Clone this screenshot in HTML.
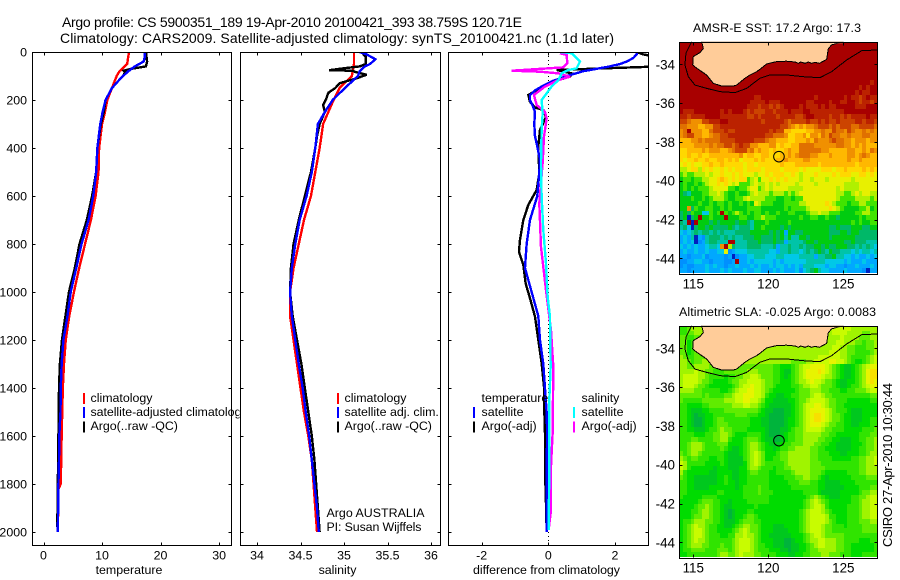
<!DOCTYPE html>
<html lang="en">
<head>
<meta charset="utf-8">
<title>Argo profile</title>
<style>
html,body{margin:0;padding:0;background:#fff}
svg{display:block}
text{font-family:"Liberation Sans",sans-serif;fill:#000}
</style>
</head>
<body>
<svg id="fig" xmlns="http://www.w3.org/2000/svg" width="900" height="580" viewBox="0 0 900 580">
  <defs>
    <clipPath id="c1"><rect x="32" y="52" width="199" height="493"/></clipPath>
    <clipPath id="c2"><rect x="239.5" y="52" width="200" height="493"/></clipPath>
    <clipPath id="c3"><rect x="448.3" y="52" width="200" height="493"/></clipPath>
    <clipPath id="m1"><rect x="679.3" y="41.7" width="198" height="231.6"/></clipPath>
    <clipPath id="m2"><rect x="679.3" y="325.7" width="198" height="231.6"/></clipPath>
  </defs>
  <rect width="900" height="580" fill="#fff"/>
  <text x="62" y="27" font-size="14" textLength="460" lengthAdjust="spacing">Argo profile: CS 5900351_189 19-Apr-2010 20100421_393 38.759S 120.71E</text>
  <text x="60" y="43" font-size="14" textLength="554" lengthAdjust="spacing">Climatology: CARS2009. Satellite-adjusted climatology: synTS_20100421.nc (1.1d later)</text>

  <g id="panel1">
    <rect x="32" y="52" width="199" height="493" fill="#fff"/>
    <g id="p1lines" clip-path="url(#c1)"></g>
    <g font-size="12.4">
      <rect x="83" y="393" width="2" height="11" fill="#f00"/>
      <rect x="83" y="407" width="2" height="11" fill="#00f"/>
      <rect x="83" y="421.5" width="2" height="11" fill="#000"/>
      <text x="90.5" y="402">climatology</text>
      <text x="90.5" y="416" textLength="157" lengthAdjust="spacing">satellite-adjusted climatology</text>
      <text x="90.5" y="430">Argo(..raw -QC)</text>
    </g>
    <text x="129" y="574" font-size="12.4" text-anchor="middle">temperature</text>
  </g>

  <g id="panel2">
    <rect x="239.5" y="52" width="200" height="493" fill="#fff"/>
    <g id="p2lines" clip-path="url(#c2)"></g>
    <g font-size="12.4">
      <rect x="337" y="393" width="2" height="11" fill="#f00"/>
      <rect x="337" y="407" width="2" height="11" fill="#00f"/>
      <rect x="337" y="421.5" width="2" height="11" fill="#000"/>
      <text x="344.5" y="402">climatology</text>
      <text x="344.5" y="416">satellite adj. clim.</text>
      <text x="344.5" y="430">Argo(..raw -QC)</text>
      <text x="326.5" y="517" textLength="98" lengthAdjust="spacing">Argo AUSTRALIA</text>
      <text x="326.5" y="531" textLength="95" lengthAdjust="spacing">PI: Susan Wijffels</text>
    </g>
    <text x="337.5" y="574" font-size="12.4" text-anchor="middle">salinity</text>
  </g>

  <g id="panel3">
    <rect x="448.3" y="52" width="200" height="493" fill="#fff"/>
    <line x1="548.5" y1="52" x2="548.5" y2="545" stroke="#000" stroke-width="1" stroke-dasharray="1 3"/>
    <g id="p3lines" clip-path="url(#c3)"></g>
    <g font-size="12.4">
      <text x="481.5" y="402">temperature</text>
      <rect x="473" y="407" width="2" height="11" fill="#00f"/>
      <text x="481.5" y="416">satellite</text>
      <rect x="473" y="421.5" width="2" height="11" fill="#000"/>
      <text x="481.5" y="430">Argo(-adj)</text>
      <text x="581.5" y="402">salinity</text>
      <rect x="573" y="407" width="2" height="11" fill="#0ff"/>
      <text x="581.5" y="416">satellite</text>
      <rect x="573" y="421.5" width="2" height="11" fill="#f0f"/>
      <text x="581.5" y="430">Argo(-adj)</text>
    </g>
    <text x="473" y="574" font-size="12.4" textLength="147" lengthAdjust="spacing">difference from climatology</text>
  </g>

  <g id="map1"></g>
  <g id="map2"></g>
  <text x="693" y="32" font-size="12.4" textLength="168" lengthAdjust="spacing">AMSR-E SST: 17.2 Argo: 17.3</text>
  <text x="679" y="316" font-size="12.4" textLength="197" lengthAdjust="spacing">Altimetric SLA: -0.025 Argo: 0.0083</text>
  <text transform="translate(892,547) rotate(-90)" font-size="13" textLength="164" lengthAdjust="spacing">CSIRO 27-Apr-2010 10:30:44</text>
  <g id="axes"></g>
</svg>
<script>
// ---- profile data ----
var depthTicks = [0,200,400,600,800,1000,1200,1400,1600,1800,2000];
var tempTicks = [0,10,20,30];
var salTicks = [34,34.5,35,35.5,36];
var salTickLabels = ['34','34.5','35','35.5','36'];
var diffTicks = [-2,0,2];

var tempClimDepth = [0,50,80,100,150,200,250,300,400,500,600,700,800,900,1000,1100,1200,1300,1400,1500,1600,1800,1820,2000];
var tempClim = [14.6,14.3,13.0,12.5,11.7,10.9,10.5,10,9.5,9.4,8.9,8.1,7.1,6.1,5.2,4.4,3.8,3.5,3.3,3.2,3.1,2.95,2.55,2.45];
var tempArgoDepth = [0,20,40,60,70,78,85,100,120,150,200,250,300,400,500,600,700,800,900,1000,1100,1200,1300,1400,1500,1600,1700,1800,1900,1980];
var tempArgo = [17.6,17.6,17.7,17.5,15,13.7,13.9,13.6,12.8,11.7,10.6,10.3,9.8,9.2,9.0,8.3,7.4,6.15,5.35,4.35,3.75,3.15,2.8,2.65,2.6,2.55,2.5,2.45,2.42,2.3];
var tempSatDepth = [0,20,40,60,80,100,120,150,200,250,300,400,500,600,700,800,900,1000,1100,1200,1300,1400,1500,1600,1700,1800,1900,2000];
var tempSat = [17.3,17.3,17.1,15.6,14.5,13.6,12.8,11.7,10.6,10.1,9.7,9.2,9.0,8.5,7.7,6.5,5.6,4.65,4.1,3.4,3.1,2.95,2.9,2.7,2.65,2.55,2.5,2.45];

var salClimDepth = [0,50,100,150,200,300,400,500,600,700,800,900,1000,1100,1200,1300,1400,1500,1600,1700,1800,1900,2000];
var salClim = [35.115,35.115,35.09,34.95,34.88,34.76,34.72,34.67,34.62,34.54,34.48,34.42,34.38,34.38,34.42,34.46,34.5,34.54,34.59,34.63,34.65,34.67,34.69];
var salSatDepth = [0,10,30,50,60,80,100,120,150,200,250,300,400,500,600,700,800,900,1000,1100,1200,1300,1400,1500,1600,1700,1800,1900,2000];
var salSat = [35.18,35.26,35.36,35.3,35.24,35.18,35.16,35.1,35.01,34.87,34.78,34.7,34.67,34.63,34.57,34.49,34.44,34.4,34.38,34.4,34.44,34.48,34.525,34.56,34.6,34.63,34.66,34.69,34.71];
var salArgoDepth = [0,20,50,60,70,76,78,83,95,110,130,150,170,200,220,250,300,350,400,500,600,700,800,900,1000,1100,1200,1300,1400,1500,1600,1700,1800,1900,2000];
var salArgo = [35.2,35.25,35.25,35.18,34.95,34.83,35.1,35.13,35.26,35.14,34.95,34.9,34.82,34.79,34.76,34.78,34.72,34.69,34.67,34.62,34.55,34.48,34.42,34.39,34.38,34.41,34.46,34.51,34.55,34.59,34.63,34.66,34.68,34.7,34.72];

var diffTempSatDepth = [0,10,25,40,50,60,70,80,100,120,140,160,180,200,230,250,300,350,400,450,500,600,700,800,900,1000,1100,1200,1300,1400,1500,1600,1700,1800,1900,2000];
var diffTempSat = [2.65,2.65,2.55,2.35,2.15,1.85,1.45,1.05,.55,.15,-.15,-.4,-.55,-.55,-.45,-.4,-.42,-.4,-.32,-.25,-.27,-.33,-.55,-.65,-.7,-.5,-.3,-.25,-.15,-.1,-.05,-.03,-.05,-.05,-.05,-.05];
var diffTempArgoDepth = [0,10,18,47,61,75,89,103,117,144,179,207,231,242,272,325,394,506,575,637,700,783,832,887,964,1026,1102,1200,1297,1394,1491,1588,1686,1783,1880,1991];
var diffTempArgo = [2.65,2.85,3.15,3.35,3.15,.25,.7,.65,.3,-.15,-.6,-.55,-.4,-.15,-.07,-.25,-.3,-.27,-.35,-.6,-.75,-.85,-.88,-.75,-.68,-.55,-.4,-.3,-.2,-.13,-.12,-.1,-.1,-.09,-.07,-.05];
var diffSalSatDepth = [0,5,40,68,75,89,117,144,200,256,325,464,603,742,880,1019,1102,1311,1450,1727,1991];
var diffSalSat = [.35,.7,.95,.85,.6,.4,.3,.1,-.2,-.17,-.2,-.22,-.2,-.15,-.07,-.02,.05,.07,.03,.03,.01];
var diffSalArgoDepth = [5,12,47,64,78,82,89,103,117,144,179,221,249,276,353,464,631,811,992,1158,1311,1588,1727,1922,1991];
var diffSalArgo = [.35,.55,.57,.45,-1.1,-.25,.3,.65,.3,-.1,-.43,-.35,-.1,-.05,-.13,-.17,-.27,-.22,-.07,.08,.15,.13,.08,.07,.01];

// ---- map data (lon, lat) ----
var mapLonTicks = [115,120,125];
var mapLatTicks = [-34,-36,-38,-40,-42,-44];
var floatLon = 120.71;
var floatLat = -38.76;
var coastLon = [115.56,115.67,115.44,115.0,114.96,115.22,115.89,116.33,116.89,117.67,117.89,118.44,118.78,119.22,119.44,119.89,120.56,121.2,121.78,122.0,122.16,122.45,122.67,122.89,123.11,123.4,123.89,124.0,124.22,125.0];
var coastLat = [-32.83,-33.18,-33.40,-33.6,-34.03,-34.2,-34.55,-34.98,-35.12,-35.12,-35.07,-34.72,-34.55,-34.38,-34.26,-33.98,-33.86,-33.84,-33.88,-33.95,-33.88,-33.95,-33.88,-33.95,-33.9,-33.95,-33.75,-33.2,-33.0,-32.83];
var shelfLon = [114.89,114.51,114.44,114.67,115.11,115.89,116.78,117.78,118.56,119.44,120.11,121.22,122.33,123.44,124.22,125.22,126.22,127.27];
var shelfLat = [-32.83,-33.43,-34.03,-34.64,-35.07,-35.24,-35.41,-35.46,-35.24,-34.72,-34.55,-34.55,-34.64,-34.69,-34.38,-33.78,-33.30,-33.26];

var sstColors = {z:'#0020c0','0':'#0090ff','1':'#00a8ff','2':'#00c8e8','3':'#00c4a8','4':'#00b868','5':'#00cc10','6':'#40e400','7':'#b0f000','8':'#e8f000','9':'#ffd800',A:'#ffb800',B:'#f09000',C:'#e07000',D:'#cc4400',E:'#bb2200',F:'#a80000'};
var slaColors = {'0':'#00b43c','1':'#00c81e','2':'#00dc00','3':'#30e400','4':'#60ec00','5':'#a0f400','6':'#c8fc00','7':'#e8f400','8':'#f8e000'};

var sstRows = [
'FFFFFFFFFF FFFFFFFFFF FFFFFFFFFF FFFFFFFFFF FFFFFFFFFF FFF',
'FFFFFFFFFF FFFFFFFFFF FFFFFFFFFF FFFFFFFFFF FFFFFFFFFF FFF',
'FFFFFFFFFF FFFFFFFFFF FFFFFFFFFF FFFFFFFFFF FFFFFFFFFF FFF',
'FFFFFFFFFF FFFFFFFFFF FFFFFFFFFF FFFFFFFFFF FFFFFFFFFF FFF',
'FFFFFFFFFF FFFFFFFFFF FFFFFFFFFF FFFFFFFFFF FFFFFFFFFF FFF',
'FFFFFFFFFF FFFFFFFFFF FFFFFFFFFF FFFFFFFFFF FFFFFFFFFF FFF',
'FFFFFFFFFF FFFFFFFFFF FFFFFFFFFF FFFFFFFFFF FFFFFFFFFF FFF',
'FFFFFFFFFF FFFFFFFFFF FFFFFFFFFF FFFFFFFFFF FFFFFFFFFF FFF',
'FFFFFFFFFF FFFFFFFFFF FFFFFFFFFF FFFFFFFFFF FFFFFFFFFF FEF',
'FFFFFFFFFF FFFFFFFFFF FFFFFFFFFF FFFFFFFFFF FFFFFFFFEF EFF',
'FFFFFFFFFF FFFFFFFFFF FFFFFFFFFF FFFFFFFFFF FFFFFFFEFE EFF',
'FFFFFFFFFF FFFFFFFFFF EEFFFFFFFF FFFFFFEFFF FFFFEFEEDE FEE',
'FFFFFFFFFF FFFFFFFFFE EEEFEEEFFF FFFFEEFFFF EFFEEFFEDE EDE',
'FFFFFFFFFF FFFFFFFFEE EDEEDEDEFF FFEFEEEFEF EEFFFFFEEE FFF',
'FEEEFFFFFF FEFEFFFEDE DDDEEDEEEF EEEFFEEEEE EEEEFFFFFF FFF',
'EEDEEEEFFF FEEEEEEEDD EDEEEEDEEE EDDEFFEEEE DEEDEDEEEE FEE',
'DDCBBBDDEE EFFEEEEEEE EEDEEEEEDC DDDDEDDEDE DDEDDDDEED EED',
'CCBBBAABBD DEEEEEEEEE EEEEEEEDDC BABABBCDDD CDCDDDCCDD DDC',
'BCFBBBAACD DDEDDEEEEE EEEEDEDDAA 9999AABBCB BDCCBDCBBC BCB',
'BCDDBBAABC CDDEEEEEEE EEEDDCCCB9 9AAB9BBACB DCCBBCBBBC CBB',
'AAABBCBCCC CDDDDEEEEE DDDCBBAAA9 9AAABACBBB CDCCBBABBB ABB',
'AAAABBBBCB CCDDCDEDDB BAAABB9A99 AACCCCBBBB BBCCBBABAB AAA',
'99AAAABABB BAABCDDDBC ABAA9A99AB AACCCCCCBB AAAAABBAAB ACB',
'99A99A99AA AAAAAAB9AA 99AA999AAB ABCCCBBAAA BAAAABBABC BAA',
'9899A99A99 AA9A9A8999 A9A999AABA AAABBAAAAA AAAAABAABA AAA',
'89898899A9 9A99999899 8999999A99 9AAAAAA9AA AAAAAAA9AA AAA',
'7789979898 8989899899 9989999899 9989888899 9899A9999A 9A9',
'6766777878 8988989888 7889899988 9878889888 8989998899 898',
'5665667788 9A98989967 8688989898 8878878887 8888887888 888',
'5655656788 9898786667 8778787888 8788887888 8888777788 888',
'5656566678 8886656678 8678788887 7778888888 8878777788 888',
'5435556677 8765565567 8777677767 6788888888 8877667878 877',
'5556556567 7765566787 7776665566 5668888888 8876666777 767',
'5555565565 6656556565 8766655566 6677888889 8766656677 666',
'55B4655665 5656555566 6655555565 6666788888 9876555566 756',
'4546552265 6F65676565 6656556556 6555677877 6665555667 766',
'45z45F5565 55F5556655 6676665555 5565566556 5545555565 666',
'43FzF55545 4555545543 5556555556 5555555555 5555556565 566',
'342z455454 4445434443 5565555454 5555555555 4454445554 455',
'2123434434 3433344445 5555454515 5445555555 4445545544 444',
'1213z10344 4343433444 5544454535 3355455555 4555555444 444',
'1212z01344 333FF33344 4544454413 3334554555 5555445444 333',
'2121211233 2BF7433344 4433341334 3343445545 4455544343 432',
'1211211211 2280122233 3333221334 3323434543 5443332323 323',
'1101112011 1101z01122 3332223322 2233331334 4533221211 212',
'0011221101 11001F1121 2222212122 2222333332 2222121112 111',
'0100111212 1101121112 1211212212 1213332221 2211011211 121',
'1101111211 1212111211 2211121211 1202345322 1111211110 z11'
];

var slaRows = [
'3345555555 5555555555 5555555555 5555555555 5666665555 555',
'3344555555 5555555555 5555555555 5555555555 5666655554 455',
'4433444455 5555555555 5555555555 5555555555 5556555544 455',
'4423344455 5555555555 5555555555 5555555555 5566555443 445',
'4423334455 5555555555 5555555555 5555555555 5665544333 445',
'4423444455 5555555555 5555555555 5555555555 6665544333 345',
'5433444555 5555555555 5555555555 5555555666 6665543333 456',
'5543445555 5555555555 5555555555 4444556666 7766543223 456',
'5544555544 4444444444 4444433222 3456677776 5432112345 677',
'5555655443 3344444455 5444433211 3456777876 5432112345 788',
'5666655433 3323344556 6544433212 3456777765 5432112345 788',
'5666654432 2223445566 6654433222 3455676654 4321122345 787',
'5666544322 2222345667 6654432222 3345566544 4321123345 677',
'5555443333 3223456677 6654322222 2344455544 3332233444 566',
'4444443433 3344566777 6653221122 3344456654 4333333333 344',
'4333334444 4455566776 6542211112 2344566665 4433322222 233',
'3322223344 4444555665 5432111111 2345667765 4433222222 222',
'3321112233 3344444444 4321100011 2345677776 5433321112 222',
'3321011223 3333344433 3221000011 2345678876 5443221112 222',
'3321001223 4433333332 2211000012 2345678876 5443221112 233',
'3321001223 4443333332 2211000012 2345677765 4433221122 233',
'3322111233 4544333322 2221000112 3445666654 4333222223 334',
'3333222334 4554322233 3321000123 3445555544 3322222233 344',
'3334433334 4553222344 4321100123 3445555443 3221112233 445',
'3345554333 4442222345 5432111233 4445554433 2211112223 445',
'3345554333 3432112345 5432212334 4555544332 2211112233 445',
'4345543333 3321112345 6542223445 5555544333 2221122233 455',
'5434433322 3321111345 6542233445 5555544333 3222223344 556',
'6533333222 2321111245 6543333345 5555544433 3333333344 556',
'6532222221 2221112245 5433323344 5555544443 3333333344 555',
'5322222211 2222112234 4333223333 4555544432 2222233344 555',
'4322111111 2232112233 3333222233 3445544321 2222223333 444',
'3322111111 2232212233 3333222223 3344433221 1112222333 333',
'3322111122 2222212333 3433222222 3333333221 1111222233 344',
'3322222222 3322222333 3433322222 2223333211 1112222234 455',
'3222223333 2222222333 3333222222 2222345432 1112223344 566',
'2222234443 3221222233 3333222222 2223456543 2222223345 566',
'2222344543 3211222222 3222222222 2223456653 2222233345 566',
'2223345543 3210122233 2222222222 2234566654 3222233345 566',
'2223445543 3210122344 3222222222 2234566665 3322233345 566',
'2334555443 3211123444 3322222222 2234566665 4322233344 455',
'2345655433 2211234554 4322211122 2234566654 4333233334 444',
'2345665433 2222345654 4322211112 2234566654 4333333334 444',
'2345665433 3223355655 4322111111 2223456654 4444333333 333',
'2345655433 3333456665 4322211100 1223455665 5544333322 233',
'2345554433 3433456665 4332211100 1122345665 5544332222 223',
'2334444333 4443456665 4333222110 1122344555 5544332222 223',
'2233333333 4554456555 4433332221 1223344455 4443332223 333'
];

// ---- scales ----
var NS = 'http://www.w3.org/2000/svg';
function yDepth(d){ return 52 + 0.24*d; }
function xTemp(v){ return 43.5 + 5.853*v; }
function xSal(v){ return 257 + 87*(v-34); }
function xDiff(v){ return 548.3 + 33.33*v; }
function lonX(lon){ return 693.3 + 15*(lon-115); }
function latY(lat, top){ return top + 22.6 + 19.4*(-34-lat); }

function el(tag, attrs, parent){
  var e = document.createElementNS(NS, tag);
  for (var k in attrs) { e.setAttribute(k, attrs[k]); }
  parent.appendChild(e);
  return e;
}
function pts(xs, ys, fx, fy){
  var out = [];
  for (var i = 0; i < xs.length; i++) { out.push(fx(xs[i]).toFixed(2) + ',' + fy(ys[i]).toFixed(2)); }
  return out.join(' ');
}
function series(parent, name, depth, vals, fx, color){
  var p = el('polyline', {points: pts(vals, depth, fx, yDepth), fill:'none', stroke:color, 'stroke-width':2.4, 'stroke-linejoin':'miter', 'stroke-miterlimit':3, 'shape-rendering':'crispEdges'}, parent);
  
  
}

var p1 = document.getElementById('p1lines');
series(p1, 'temperature-climatology-line', tempClimDepth, tempClim, xTemp, '#f00');
series(p1, 'temperature-argo-line', tempArgoDepth, tempArgo, xTemp, '#000');
series(p1, 'temperature-satellite-line', tempSatDepth, tempSat, xTemp, '#00f');

var p2 = document.getElementById('p2lines');
series(p2, 'salinity-climatology-line', salClimDepth, salClim, xSal, '#f00');
series(p2, 'salinity-argo-line', salArgoDepth, salArgo, xSal, '#000');
series(p2, 'salinity-satellite-line', salSatDepth, salSat, xSal, '#00f');

var p3 = document.getElementById('p3lines');
series(p3, 'diff-temperature-argo-line', diffTempArgoDepth, diffTempArgo, xDiff, '#000');
series(p3, 'diff-temperature-satellite-line', diffTempSatDepth, diffTempSat, xDiff, '#00f');
series(p3, 'diff-salinity-argo-line', diffSalArgoDepth, diffSalArgo, xDiff, '#f0f');
series(p3, 'diff-salinity-satellite-line', diffSalSatDepth, diffSalSat, xDiff, '#0ff');

// ---- axes ----
var axes = document.getElementById('axes');
function frame(name, x, y, w, h){
  var r = el('rect', {x:Math.round(x)+0.5, y:Math.round(y)+0.5, width:Math.round(w), height:Math.round(h), fill:'none', stroke:'#000', 'stroke-width':1}, axes);
  
  
}
function tickMark(x1, y1, x2, y2){
  var t = el('line', {x1:x1, y1:y1, x2:x2, y2:y2, stroke:'#000', 'stroke-width':1}, axes);
  
  
}
function label(txt, x, y, anchor, size){
  var t = el('text', {x:x, y:y, 'text-anchor':anchor, 'font-size':size}, axes);
  t.textContent = txt;
  
  
}
function profileAxes(name, left, right, xticks, xlabels, fx, showY){
  frame(name + '-frame', left, 52, right-left, 493);
  var l = Math.round(left)+0.5, r = Math.round(right)+0.5;
  depthTicks.forEach(function(d){
    var y = Math.round(yDepth(d))+0.5;
    tickMark(l, y, l+3, y);
    tickMark(r-3, y, r, y);
    if (showY) { label(String(d), 27, yDepth(d)+4.5, 'end', 12.4); }
  });
  xticks.forEach(function(v,i){
    var x = Math.round(fx(v))+0.5;
    tickMark(x, 52.5, x, 55.5);
    tickMark(x, 542.5, x, 545.5);
    label(xlabels[i], fx(v), 559.5, 'middle', 12.4);
  });
}
profileAxes('temperature-axes', 32, 231, tempTicks, tempTicks.map(String), xTemp, true);
profileAxes('salinity-axes', 239.5, 439.5, salTicks, salTickLabels, xSal, false);
profileAxes('difference-axes', 448.3, 648.3, diffTicks, diffTicks.map(String), xDiff, false);

// ---- maps ----
function drawMap(groupId, rows, colors, top, clipId, name){
  var g = document.getElementById(groupId);
  g.setAttribute('clip-path', 'url(#' + clipId + ')');
  var cw = 198/53, ch = 231.6/48;
  rows.forEach(function(raw, r){
    var row = raw.replace(/ /g, '');
    for (var c = 0; c < 53; c++) {
      var key = row.charAt(c) || row.charAt(row.length-1);
      var x0 = Math.round(679.3 + c*cw), x1 = Math.round(679.3 + (c+1)*cw);
      var y0 = Math.round(top + r*ch), y1 = Math.round(top + (r+1)*ch);
      var cell = el('rect', {x:x0, y:y0, width:x1-x0, height:y1-y0, fill:colors[key]}, g);
      
      
    }
  });
  function fy(lat){ return latY(lat, top); }
  var land = el('polygon', {points: pts(coastLon, coastLat, lonX, fy), fill:'#ffcc99', stroke:'#000', 'stroke-width':1, 'shape-rendering':'crispEdges'}, g);
  
  
  var cover = el('rect', {x:lonX(coastLon[0])+0.5, y:top-1, width:lonX(coastLon[coastLon.length-1])-lonX(coastLon[0])-1, height:2.5, fill:'#ffcc99'}, g);
  
  
  var shelf = el('polyline', {points: pts(shelfLon, shelfLat, lonX, fy), fill:'none', stroke:'#000', 'stroke-width':1, 'shape-rendering':'crispEdges'}, g);
  
  
  var dot = el('circle', {cx:lonX(floatLon), cy:fy(floatLat), r:5.3, fill:'none', stroke:'#000', 'stroke-width':1}, g);
  
  

  frame(name + '-frame', 679.3, top, 198, 231.6);
  var bottom = top + 231.6;
  mapLonTicks.forEach(function(lon){
    var x = Math.round(lonX(lon))+0.5;
    tickMark(x, Math.round(top)+0.5, x, Math.round(top)+3.5);
    tickMark(x, Math.round(bottom)-2.5, x, Math.round(bottom)+0.5);
    label(String(lon), lonX(lon), bottom+15, 'middle', 13.4);
  });
  mapLatTicks.forEach(function(lat){
    var y = Math.round(fy(lat))+0.5;
    tickMark(679.5, y, 682.5, y);
    tickMark(874.5, y, 877.5, y);
    label(String(lat), 675, fy(lat)+5, 'end', 13.4);
  });
}
drawMap('map1', sstRows, sstColors, 41.7, 'm1', 'sst-map');
drawMap('map2', slaRows, slaColors, 325.7, 'm2', 'sla-map');
</script>
</body>
</html>
